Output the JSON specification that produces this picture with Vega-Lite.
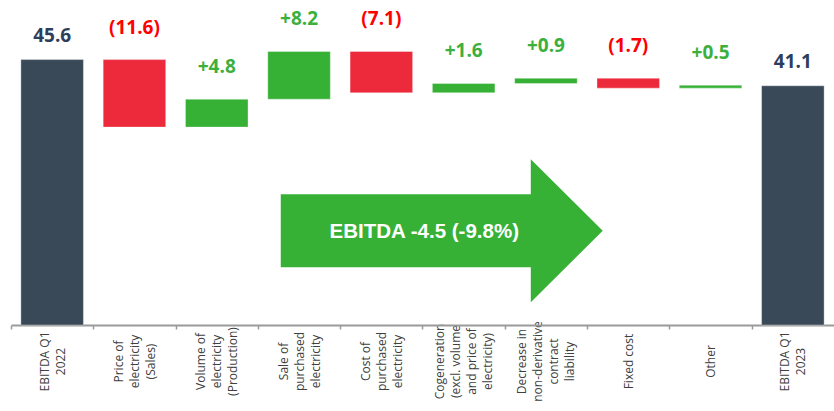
{
  "$schema": "https://vega.github.io/schema/vega-lite/v6.json",
  "width": 823,
  "height": 291,
  "autosize": {"type": "none"},
  "padding": {"left": 11, "top": 34, "right": 0, "bottom": 86},
  "background": "white",
  "config": {"view": {"stroke": null}},
  "datasets": {
    "steps": [
      {"cat": "EBITDA Q1|2022", "start": 0, "end": 45.6, "type": "total", "label": "45.6"},
      {"cat": "Price of|electricity|(Sales)", "start": 45.6, "end": 34.0, "type": "decrease", "label": "(11.6)"},
      {"cat": "Volume of|electricity|(Production)", "start": 34.0, "end": 38.8, "type": "increase", "label": "+4.8"},
      {"cat": "Sale of|purchased|electricity", "start": 38.8, "end": 47.0, "type": "increase", "label": "+8.2"},
      {"cat": "Cost of|purchased|electricity", "start": 47.0, "end": 39.9, "type": "decrease", "label": "(7.1)"},
      {"cat": "Cogeneration|(excl. volume|and price of|electricity)", "start": 39.9, "end": 41.5, "type": "increase", "label": "+1.6"},
      {"cat": "Decrease in|non-derivative|contract|liability", "start": 41.5, "end": 42.4, "type": "increase", "label": "+0.9"},
      {"cat": "Fixed cost", "start": 42.4, "end": 40.7, "type": "decrease", "label": "(1.7)"},
      {"cat": "Other", "start": 40.7, "end": 41.2, "type": "increase", "label": "+0.5"},
      {"cat": "EBITDA Q1|2023", "start": 0, "end": 41.1, "type": "total", "label": "41.1"}
    ],
    "arrow": [
      {"cat": "Cogeneration|(excl. volume|and price of|electricity)", "level": 16.2, "note": "EBITDA -4.5 (-9.8%)"}
    ]
  },
  "encoding": {
    "x": {
      "field": "cat",
      "type": "nominal",
      "sort": null,
      "scale": {
        "domain": [
          "EBITDA Q1|2022",
          "Price of|electricity|(Sales)",
          "Volume of|electricity|(Production)",
          "Sale of|purchased|electricity",
          "Cost of|purchased|electricity",
          "Cogeneration|(excl. volume|and price of|electricity)",
          "Decrease in|non-derivative|contract|liability",
          "Fixed cost",
          "Other",
          "EBITDA Q1|2023"
        ],
        "paddingInner": 0.24,
        "paddingOuter": 0.12
      },
      "axis": {
        "title": null,
        "labelExpr": "split(datum.label, '|')",
        "labelAngle": -90,
        "labelAlign": "center",
        "labelBaseline": "middle",
        "labelPadding": 32,
        "labelOverlap": false,
        "labelBound": false,
        "labelFont": "Open Sans",
        "labelFontSize": 12,
        "labelLineHeight": 16,
        "labelColor": "#404040",
        "labelLimit": 300,
        "bandPosition": 0,
        "tickExtra": false,
        "tickOffset": -9.9,
        "labelOffset": {
          "condition": [
            {"test": "length(split(datum.label, '|')) == 2", "value": 1.9},
            {"test": "length(split(datum.label, '|')) == 3", "value": -6.1},
            {"test": "length(split(datum.label, '|')) == 4", "value": -14.1}
          ],
          "value": 9.9
        },
        "tickSize": 4,
        "tickWidth": 1.5,
        "tickColor": "#9a9a9a",
        "domainColor": "#9a9a9a",
        "domainWidth": 2,
        "grid": false
      }
    }
  },
  "layer": [
    {
      "data": {"name": "steps"},
      "mark": {"type": "bar", "stroke": "#ffffff", "strokeOpacity": 0.35, "strokeWidth": 1},
      "encoding": {
        "y": {"field": "start", "type": "quantitative", "scale": {"domain": [0, 50], "nice": false, "zero": true}, "axis": null},
        "y2": {"field": "end"},
        "color": {
          "field": "type",
          "type": "nominal",
          "scale": {"domain": ["total", "increase", "decrease"], "range": ["#394958", "#36b136", "#ec2a3b"]},
          "legend": null
        }
      }
    },
    {
      "data": {"name": "steps"},
      "transform": [
        {"calculate": "max(datum.start, datum.end)", "as": "top"},
        {"filter": "datum.type == 'total'"}
      ],
      "mark": {"type": "text", "baseline": "middle", "align": "center", "dy": -24, "font": "Open Sans", "fontSize": 19, "fontWeight": "bold"},
      "encoding": {
        "y": {"field": "top", "type": "quantitative"},
        "text": {"field": "label"},
        "color": {"value": "#2d3e5c"}
      }
    },
    {
      "data": {"name": "steps"},
      "transform": [
        {"calculate": "max(datum.start, datum.end)", "as": "top"},
        {"filter": "datum.type != 'total'"}
      ],
      "mark": {"type": "text", "baseline": "middle", "align": "center", "dy": -32, "font": "Open Sans", "fontSize": 19, "fontWeight": "bold"},
      "encoding": {
        "y": {"field": "top", "type": "quantitative"},
        "text": {"field": "label"},
        "color": {"condition": {"test": "datum.type == 'decrease'", "value": "#ff0000"}, "value": "#3cb03c"}
      }
    },
    {
      "data": {"name": "arrow"},
      "mark": {
        "type": "point",
        "shape": "M-1,-0.227L0.553,-0.227L0.553,-0.444L1,0L0.553,0.444L0.553,0.227L-1,0.227Z",
        "size": 103684,
        "filled": true,
        "opacity": 1,
        "strokeWidth": 0,
        "color": "#36b136"
      },
      "encoding": {
        "x": {"field": "cat", "type": "nominal", "bandPosition": 0.15},
        "y": {"field": "level", "type": "quantitative"}
      }
    },
    {
      "data": {"name": "arrow"},
      "mark": {"type": "text", "baseline": "middle", "align": "center", "dx": -17.5, "dy": 1.5, "font": "Liberation Sans", "fontSize": 20.5, "fontWeight": "bold", "color": "#ffffff"},
      "encoding": {
        "x": {"field": "cat", "type": "nominal", "bandPosition": 0.15},
        "y": {"field": "level", "type": "quantitative"},
        "text": {"field": "note"}
      }
    }
  ]
}
